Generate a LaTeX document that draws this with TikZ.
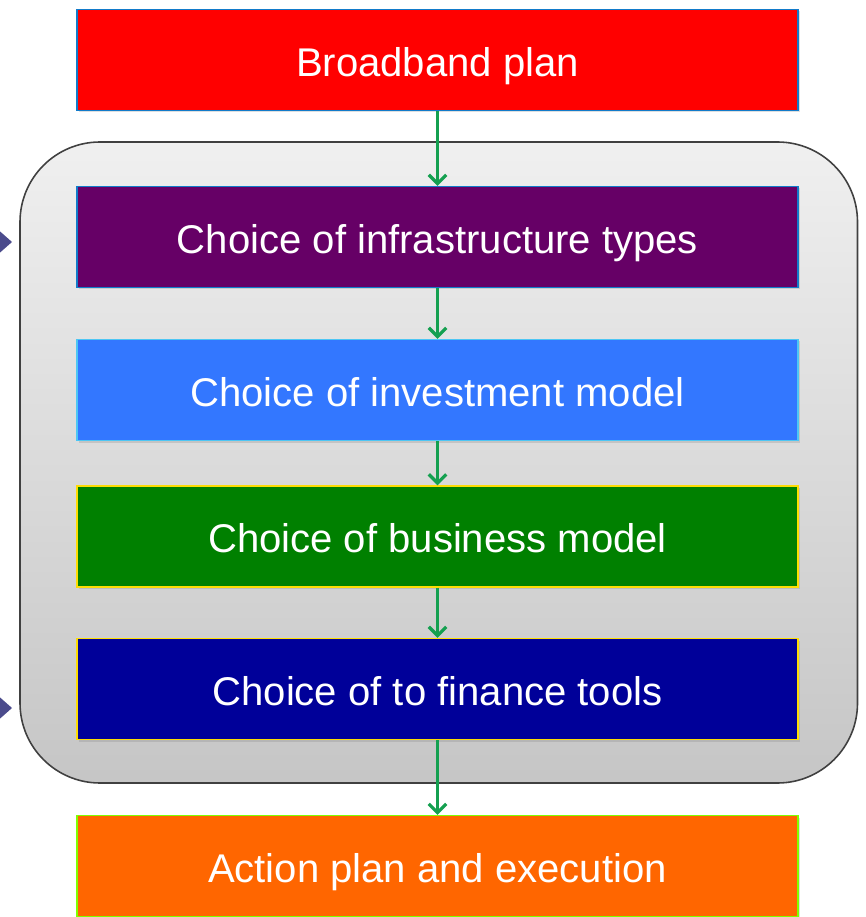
\documentclass[tikz,border=0pt]{standalone}
\usepackage{fontspec}
\setmainfont{Liberation Sans}
\usetikzlibrary{arrows.meta,shadows}

\definecolor{planred}{RGB}{255,0,0}
\definecolor{infrapurple}{RGB}{102,0,102}
\definecolor{investblue}{RGB}{51,119,255}
\definecolor{businessgreen}{RGB}{0,128,0}
\definecolor{financenavy}{RGB}{0,0,153}
\definecolor{actionorange}{RGB}{255,102,0}
\definecolor{linkgreen}{RGB}{20,160,80}
\definecolor{markerblue}{RGB}{75,75,140}

\tikzset{
  stagebox/.style={shape=rectangle, minimum width=14.42cm, minimum height=2.02cm,
    text=white, font=\fontsize{22.8}{27}\selectfont, line width=0.6pt,
    text height=0.65cm, text depth=0pt,
    drop shadow={opacity=0.25, shadow xshift=0.04cm, shadow yshift=-0.04cm}},
  link/.style={draw=linkgreen, line width=1.9pt, -{Straight Barb[length=5pt,width=10pt]}}
}

\begin{document}
\begin{tikzpicture}
    \useasboundingbox (0,0) rectangle (17.3,-18.34);
    % grey frame round the four choices
    \draw[rounded corners=1.6cm, top color=gray!12, bottom color=gray!45,
          draw=black!75, line width=0.9pt] (0.4,-2.84) rectangle (17.15,-15.66);
    % side markers
    \fill[markerblue] (-0.1,-4.54) -- (0.24,-4.84) -- (-0.1,-5.14) -- cycle;
    \fill[markerblue] (-0.1,-13.86) -- (0.24,-14.16) -- (-0.1,-14.46) -- cycle;

    \node[stagebox, fill=planred, draw=cyan!60!blue] (plan) at (8.75,-1.2){Broadband plan};
    \node[stagebox, fill=infrapurple, draw=cyan!60!blue] (infra) at (8.75,-4.74){Choice of infrastructure types};
    \node[stagebox, fill=investblue, draw=cyan!70] (invest) at (8.75,-7.8){Choice of investment model};
    \node[stagebox, fill=businessgreen, draw=yellow!80!orange] (business) at (8.75,-10.73){Choice of business model};
    \node[stagebox, fill=financenavy, draw=yellow!80!orange] (finance) at (8.75,-13.78){Choice of to finance tools};
    \node[stagebox, fill=actionorange, draw=green!50!yellow] (action) at (8.75,-17.32){Action plan and execution};

    \path [link](plan) edge (infra);
    \path [link](infra) edge (invest);
    \path [link](invest) edge (business);
    \path [link](business) edge (finance);
    \path [link](finance) edge (action);
\end{tikzpicture}
\end{document}
